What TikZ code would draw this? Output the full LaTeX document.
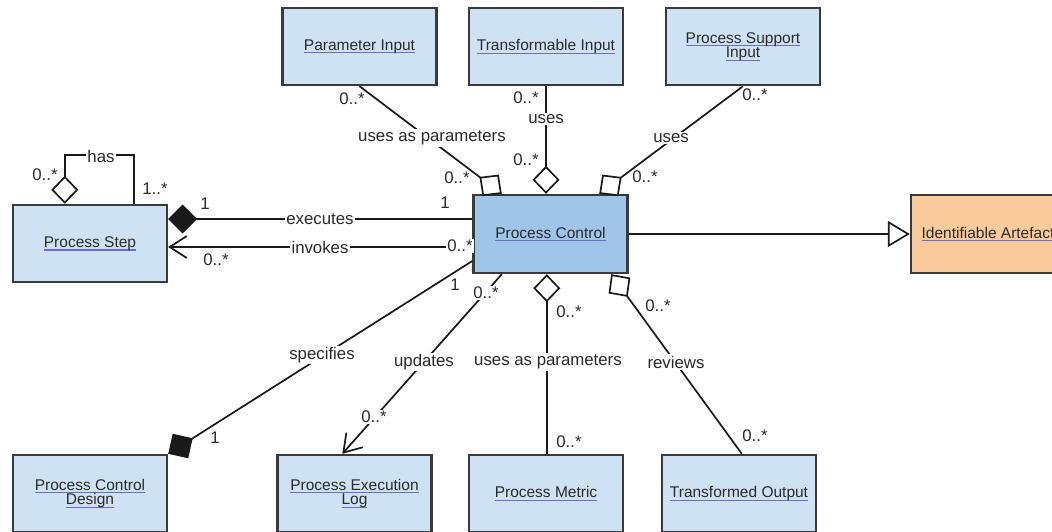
\documentclass[tikz,border=0pt]{standalone}
\usepackage{fontspec}
\setmainfont{Liberation Sans}
\usetikzlibrary{arrows.meta}
\definecolor{boxblue}{HTML}{CFE2F3}
\definecolor{pcblue}{HTML}{9FC5E8}
\definecolor{orangebox}{HTML}{F9CB9C}
\definecolor{edgegray}{HTML}{3A3A3A}
\definecolor{txt}{HTML}{2A2A2A}
\definecolor{ulc}{HTML}{6B6BD6}
\newcommand\bul[1]{\leavevmode\setbox0\hbox{#1}\rlap{\textcolor{ulc}{\rule[-3.2pt]{\wd0}{1.1pt}}}\box0}
\begin{document}
\begin{tikzpicture}[x=1pt,y=-1pt,
  cls/.style={draw=edgegray, line width=2.4pt, fill=boxblue, minimum width=154pt, minimum height=77pt,
              inner sep=0pt, align=center, text=txt, font=\fontsize{15.5}{14.5}\selectfont},
  lbl/.style={text=txt, inner sep=1.5pt, font=\fontsize{16.8}{18}\selectfont},
  onl/.style={lbl, fill=white},
  conn/.style={draw=black!90, line width=1.7pt},
  odia/.tip={Diamond[fill=white, length=28pt, width=27pt]},
  fdia/.tip={Diamond[length=29pt, width=29pt]},
  barb/.tip={Straight Barb[length=17pt, width=22pt]},
  gen/.tip={Triangle[fill=white, length=22pt, width=26pt]}]
\useasboundingbox (0,0) rectangle (1052,531);
\clip (0,0) rectangle (1052,531);

% classes
\node[cls] (pi)  at (359.5,46.5) {\bul{Parameter Input}};
\node[cls] (ti)  at (546,46.5)   {\bul{Transformable Input}};
\node[cls] (psi) at (743,46.5)   {\bul{Process Support}\\\bul{Input}};
\node[cls] (ps)  at (90,243.5)   {\bul{Process Step}};
\node[cls, fill=pcblue, minimum height=78pt] (pc) at (550.5,234) {\bul{Process Control}};
\node[cls, fill=orangebox, minimum height=78pt] (ia) at (988,234) {\bul{Identifiable Artefact}};
\node[cls] (pcd) at (90,493.5)    {\bul{Process Control}\\\bul{Design}};
\node[cls] (pel) at (354.5,493.5) {\bul{Process Execution}\\\bul{Log}};
\node[cls] (pm)  at (546,493.5)   {\bul{Process Metric}};
\node[cls] (to)  at (739,493.5)   {\bul{Transformed Output}};

% connectors
\draw[conn, -odia] (pi.south) -- ([xshift=29.5pt]pc.north west);
\draw[conn, -odia] (ti.south) -- (ti.south |- pc.north);
\draw[conn, -odia] (psi.south) -- ([xshift=-29.5pt]pc.north east);
\draw[conn, -odia] ([xshift=122pt]ps.north west) -- ++(0,-49) -| ([xshift=53pt]ps.north west);
\draw[conn, fdia-] ([yshift=24.5pt]ps.east) -- ([yshift=15pt]pc.west);
\draw[conn, -barb] ([yshift=-13pt]pc.west) -- ([yshift=-3.5pt]ps.east);
\draw[conn, -gen] (pc.east) -- (ia.west);
\draw[conn, -fdia] ([yshift=-27pt]pc.west) -- (pcd.north east);
\draw[conn, -barb] ([xshift=29.5pt]pc.south west) -- ([xshift=66pt]pel.north west);
\draw[conn, odia-] ([xshift=74.5pt]pc.south west) -- ([xshift=79pt]pm.north west);
\draw[conn, odia-] ([xshift=-17.5pt]pc.south east) -- ([xshift=81pt]to.north west);

% labels
\node[lbl] (m1) at (352,99) {0..*};
\node[onl] (a1) at (432,138) {uses as parameters};
\node[lbl] (m2) at (457,178) {0..*};
\node[lbl] (m3) at (526,98) {0..*};
\node[onl] (a2) at (546,119) {uses};
\node[lbl] (m4) at (526,160) {0..*};
\node[lbl] (m5) at (755,95) {0..*};
\node[onl] (a3) at (671,138) {uses};
\node[lbl] (m6) at (645,177) {0..*};
\node[lbl] (m7) at (45,175) {0..*};
\node[onl] (a4) at (101,156) {has};
\node[lbl] (m8) at (155,189) {1..*};
\node[lbl] (m9) at (205,204) {1};
\node[onl] (a5) at (320,219) {executes};
\node[lbl] (m10) at (445,203) {1};
\node[onl] (a6) at (320,247) {invokes};
\node[onl] (m11) at (460,246) {0..*};
\node[lbl] (m12) at (216,260) {0..*};
\node[lbl] (m13) at (455,285) {1};
\node[onl] (m14) at (486,293) {0..*};
\node[onl] (a7) at (322,355) {specifies};
\node[onl] (a8) at (424,362) {updates};
\node[onl] (m15) at (374,417) {0..*};
\node[lbl] (m16) at (215,438) {1};
\node[lbl] (m17) at (569,312) {0..*};
\node[onl] (a9) at (548,362) {uses as parameters};
\node[onl] (a10) at (676,362) {reviews};
\node[lbl] (m18) at (658,306) {0..*};
\node[lbl] (m19) at (569,442) {0..*};
\node[lbl] (m20) at (755,436) {0..*};
\end{tikzpicture}
\end{document}
